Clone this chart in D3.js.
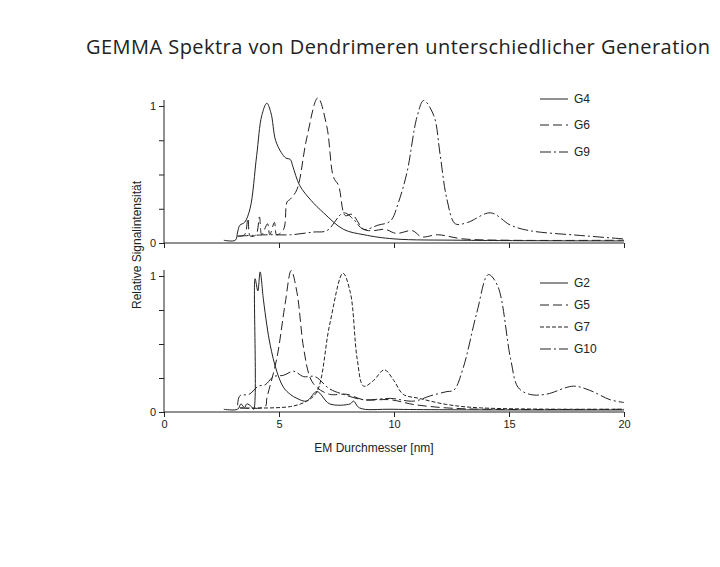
<!DOCTYPE html>
<html>
<head>
<meta charset="utf-8">
<script src="https://cdn.jsdelivr.net/npm/d3@7"></script>
<style>
  body { margin: 0; background: #fff; }
  text { font-family: "Liberation Sans", Arial, sans-serif; fill: #222; }
</style>
</head>
<body>
<svg id="chart" width="720" height="567"></svg>
<script>
// x = EM Durchmesser [nm], y = relative Signalintensität
let g4 = [[2.6,0.02],[3.1,0.02],[3.2,0.08],[3.3,0.13],[3.5,0.15],[3.74,0.25],[4.03,0.64],[4.25,0.93],[4.47,1.02],[4.65,0.95],[4.85,0.75],[5.1,0.66],[5.3,0.62],[5.49,0.61],[5.6,0.56],[5.9,0.42],[6.4,0.31],[6.94,0.22],[7.8,0.1],[8.7,0.06],[10,0.03],[13,0.02],[20,0.015]]
let g6 = [[3.2,0.05],[3.5,0.06],[3.65,0.18],[3.75,0.05],[4.0,0.06],[4.15,0.19],[4.25,0.06],[4.5,0.14],[4.6,0.06],[4.8,0.15],[4.9,0.06],[5.2,0.1],[5.35,0.3],[5.49,0.32],[5.78,0.39],[6.2,0.76],[6.69,1.06],[7.08,0.85],[7.37,0.48],[7.59,0.42],[7.88,0.2],[8.17,0.21],[8.68,0.1],[9.1,0.09],[9.6,0.1],[10.1,0.07],[10.8,0.09],[11.2,0.045],[11.9,0.06],[13,0.03],[15,0.02],[20,0.02]]
let g9 = [[3.2,0.05],[4.5,0.06],[5.5,0.06],[6.5,0.08],[7.08,0.09],[7.8,0.22],[8.2,0.18],[8.68,0.1],[9.3,0.13],[9.84,0.16],[10.2,0.3],[10.57,0.52],[11.0,0.92],[11.29,1.04],[11.73,0.93],[12.0,0.65],[12.3,0.32],[12.67,0.14],[13.2,0.15],[14.2,0.22],[15.07,0.13],[15.9,0.09],[18.1,0.055],[20,0.03]]

let g2 = [[2.6,0.02],[3.2,0.02],[3.35,0.06],[3.5,0.03],[3.6,0.06],[3.8,0.04],[3.9,0.02],[3.96,0.98],[4.08,0.89],[4.18,1.03],[4.32,0.83],[4.47,0.64],[4.62,0.49],[4.9,0.3],[5.2,0.18],[5.49,0.13],[5.78,0.1],[6.2,0.08],[6.65,0.15],[7.2,0.06],[8.1,0.06],[8.24,0.08],[8.5,0.03],[10,0.02],[20,0.015]]
let g5 = [[3.3,0.03],[4.4,0.04],[4.47,0.1],[4.9,0.39],[5.27,0.8],[5.53,1.04],[5.78,0.88],[6.07,0.47],[6.36,0.25],[6.65,0.18],[7.2,0.13],[7.95,0.13],[8.68,0.09],[9.84,0.09],[10.86,0.055],[12.3,0.03],[14,0.02],[20,0.02]]
let g7 = [[3.3,0.03],[5.5,0.04],[6.2,0.08],[6.65,0.15],[7.2,0.64],[7.78,1.02],[8.1,0.88],[8.4,0.39],[8.68,0.19],[9.1,0.23],[9.58,0.31],[10.0,0.23],[10.4,0.13],[11.1,0.1],[12.3,0.055],[13.8,0.03],[20,0.02]]
let g10 = [[3.2,0.05],[3.3,0.12],[3.7,0.13],[4.1,0.19],[4.4,0.2],[4.76,0.26],[5.2,0.27],[5.63,0.3],[6.07,0.26],[6.57,0.26],[7.2,0.17],[7.8,0.13],[8.68,0.09],[9.84,0.1],[10.86,0.08],[11.6,0.12],[12.3,0.15],[12.6,0.16],[13.0,0.32],[13.6,0.73],[14.1,1.01],[14.5,0.93],[15.07,0.39],[15.4,0.18],[15.9,0.13],[16.6,0.13],[17.8,0.19],[18.5,0.16],[19.4,0.09],[20,0.07]]

let topSeries = [
    {name: 'G4', data: g4, dash: null},
    {name: 'G6', data: g6, dash: '9,4'},
    {name: 'G9', data: g9, dash: '11,3,2,3'}
]
let bottomSeries = [
    {name: 'G2', data: g2, dash: null},
    {name: 'G5', data: g5, dash: '9,4'},
    {name: 'G7', data: g7, dash: '4,2'},
    {name: 'G10', data: g10, dash: '11,3,2,3'}
]
let xTicks = [0, 5, 10, 15, 20]
let yTicks = [0, 0.25, 0.5, 0.75, 1]

let svg = d3.select('#chart')

svg.append('text')
    .attr('x', 86).attr('y', 54)
    .attr('textLength', 624)
    .style('font-family', '"Open Sans", sans-serif')
    .style('font-size', '20px')
    .text('GEMMA Spektra von Dendrimeren unterschiedlicher Generation')

let x = d3.scaleLinear().domain([0, 20]).range([164, 624])

function drawPanel(series, y0, y1, legendY, labelX) {
    let y = d3.scaleLinear().domain([0, 1]).range([y0, y1])
    let g = svg.append('g')

    let yAxis = g.append('g')
        .attr('transform', 'translate(164,0)')
        .call(d3.axisLeft(y).tickValues(yTicks).tickSize(5)
            .tickFormat(d => (d === 0 || d === 1) ? d : ''))
    yAxis.select('.domain').attr('d', 'M0,' + (y1 - 6) + 'V' + y0)

    let xAxis = g.append('g')
        .attr('transform', 'translate(0,' + y0 + ')')
        .call(d3.axisBottom(x).tickValues(xTicks).tickSize(5)
            .tickFormat(labelX ? d3.format('d') : ''))
    xAxis.select('.domain').attr('d', 'M164,0H624')

    g.selectAll('.domain, .tick line').attr('stroke', '#222')
    g.selectAll('.tick text').style('font-size', '11px').attr('fill', '#222')

    let line = d3.line()
        .x(d => x(d[0]))
        .y(d => y(d[1]))
        .curve(d3.curveCatmullRom)

    g.selectAll('.series')
        .data(series)
        .enter().append('path')
        .attr('d', d => line(d.data))
        .attr('fill', 'none')
        .attr('stroke', '#222')
        .attr('stroke-width', 1)
        .attr('stroke-dasharray', d => d.dash)

    let leg = g.selectAll('.leg')
        .data(series)
        .enter().append('g')
        .attr('transform', (d, i) => 'translate(540,' + legendY[i] + ')')
    leg.append('line')
        .attr('x1', 0).attr('x2', 28)
        .attr('stroke', '#222')
        .attr('stroke-dasharray', d => d.dash)
    leg.append('text')
        .attr('x', 34).attr('dy', '0.35em')
        .style('font-size', '12px')
        .text(d => d.name)
}

drawPanel(topSeries, 243, 106, [99, 125, 152], false)
drawPanel(bottomSeries, 412, 276, [283, 305, 327, 349], true)

svg.append('text')
    .attr('transform', 'translate(141,245) rotate(-90)')
    .attr('text-anchor', 'middle')
    .style('font-size', '12px')
    .text('Relative Signalintensität')

svg.append('text')
    .attr('x', 374).attr('y', 452)
    .attr('text-anchor', 'middle')
    .style('font-size', '12px')
    .text('EM Durchmesser [nm]')
</script>
</body>
</html>
